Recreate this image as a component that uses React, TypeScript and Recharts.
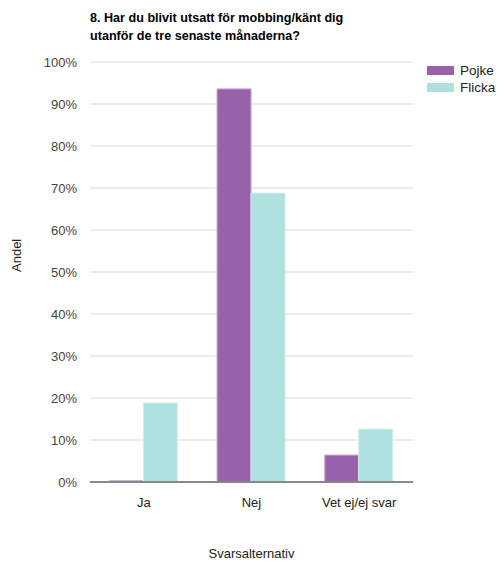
import { BarChart, Bar, XAxis, YAxis, CartesianGrid, ReferenceLine } from "recharts";

const categories = ["Ja", "Nej", "Vet ej/ej svar"];
const pojke = [0.3, 93.6, 6.4];
const flicka = [18.8, 68.8, 12.6];
const yTicks = [0, 10, 20, 30, 40, 50, 60, 70, 80, 90, 100];

const seriesInfo = [
  { key: "Pojke", color: "#9862ab", stroke: "#c9a6d3" },
  { key: "Flicka", color: "#ade0df", stroke: "#d3efee" },
];

const data = categories.map((c, i) => ({ name: c, Pojke: pojke[i], Flicka: flicka[i] }));

const font = "Arial, 'Liberation Sans', sans-serif";

function LegendBox() {
  return (
    <div style={{ position: "absolute", left: 427, top: 62, fontFamily: font, fontSize: 13.5, color: "#222" }}>
      {seriesInfo.map((s) => (
        <div key={s.key} style={{ display: "flex", alignItems: "center", height: 17 }}>
          <span style={{ display: "inline-block", width: 27, height: 9, background: s.color, marginRight: 6 }} />
          <span>{s.key}</span>
        </div>
      ))}
    </div>
  );
}

export default function App() {
  return (
    <div style={{ position: "absolute", left: 0, top: 0, width: 498, height: 569, background: "#fff" }}>
      <div
        style={{
          position: "absolute",
          left: 90,
          top: 9,
          fontFamily: font,
          fontSize: 12.6,
          fontWeight: "bold",
          lineHeight: "18px",
          color: "#000",
        }}
      >
        8. Har du blivit utsatt för mobbing/känt dig
        <br />
        utanför de tre senaste månaderna?
      </div>
      <BarChart
        width={498}
        height={569}
        data={data}
        margin={{ top: 62, right: 85, left: 0, bottom: 0 }}
        barCategoryGap="18%"
        barGap={0}
      >
        <CartesianGrid vertical={false} stroke="#d9d9d9" />
        <XAxis
          dataKey="name"
          height={87}
          tickLine={false}
          axisLine={false}
          tickMargin={10}
          tick={{ fill: "#222", fontSize: 13, fontFamily: font }}
          label={{ value: "Svarsalternativ", position: "insideBottom", offset: 11, fill: "#222", fontSize: 13, fontFamily: font }}
        />
        <YAxis
          width={90}
          domain={[0, 100]}
          ticks={yTicks}
          tickFormatter={(v) => `${v}%`}
          tickLine={false}
          axisLine={false}
          tickSize={0}
          tickMargin={13}
          tick={{ fill: "#444", fontSize: 13, fontFamily: font }}
          label={{ value: "Andel", angle: -90, position: "insideLeft", offset: 16, fill: "#222", fontSize: 13, fontFamily: font }}
        />
        {seriesInfo.map((s) => (
          <Bar key={s.key} dataKey={s.key} fill={s.color} stroke={s.stroke} strokeWidth={1} isAnimationActive={false} />
        ))}
        <ReferenceLine y={0} stroke="#888" strokeWidth={2} />
      </BarChart>
      <LegendBox />
    </div>
  );
}
